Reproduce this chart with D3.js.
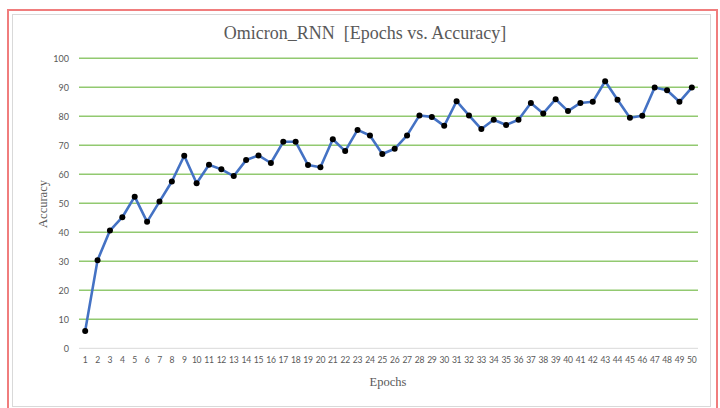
<!DOCTYPE html>
<html><head><meta charset="utf-8">
<script src="https://cdn.jsdelivr.net/npm/d3@7"></script>
<style>body{margin:0;background:#fff}svg{display:block}</style>
</head><body>
<svg id="c" width="720" height="408"></svg>
<script>
const epochs = d3.range(1, 51);
const accuracy = [6.0,30.4,40.6,45.2,52.3,43.6,50.6,57.5,66.4,56.9,
  63.3,61.7,59.4,64.9,66.5,63.9,71.2,71.2,63.2,62.4,
  72.1,68.0,75.3,73.4,67.0,68.8,73.4,80.3,79.8,76.7,
  85.2,80.3,75.6,78.8,77.0,78.8,84.6,81.0,85.9,81.8,
  84.6,85.0,92.1,85.7,79.5,80.2,89.9,89.0,85.0,89.9];
const yTicks = [0,10,20,30,40,50,60,70,80,90,100];
const title = "Omicron_RNN  [Epochs vs. Accuracy]";
const xTitle = "Epochs", yTitle = "Accuracy";

const svg = d3.select("#c");
// borders
svg.append("rect").attr("x",8).attr("y",10).attr("width",709).attr("height",410)
  .attr("fill","none").attr("stroke","#f07d7d").attr("stroke-width",2);
svg.append("rect").attr("x",12.5).attr("y",14.5).attr("width",698).attr("height",392)
  .attr("fill","none").attr("stroke","#d9d9d9").attr("stroke-width",1);

const L = 79, R = 698, T = 58.3, B = 348.3;
const x = d3.scaleBand().domain(epochs).range([L, R]);
const y = d3.scaleLinear().domain([0,100]).range([B, T]);

// gridlines
svg.append("g").selectAll("line").data(yTicks.filter(d=>d>0)).join("line")
  .attr("x1",L).attr("x2",R).attr("y1",d=>y(d)).attr("y2",d=>y(d))
  .attr("stroke","#92c970").attr("stroke-width",1.5);
// x baseline
svg.append("line").attr("x1",L).attr("x2",R).attr("y1",B).attr("y2",B)
  .attr("stroke","#d9d9d9").attr("stroke-width",1);

// y tick labels
const yAxis = d3.axisLeft(y).tickValues(yTicks).tickSize(0).tickPadding(0);
const gy = svg.append("g").attr("transform",`translate(69,0)`).call(yAxis);
gy.select(".domain").remove();
gy.selectAll("text").attr("font-family","Lato, sans-serif").attr("font-size",9).attr("fill","#595959");

// x tick labels
const xAxis = d3.axisBottom(x).tickSize(0).tickPadding(0);
const gx = svg.append("g").attr("transform",`translate(0,${B+9})`).call(xAxis);
gx.select(".domain").remove();
gx.selectAll("text").attr("font-family","Lato, sans-serif").attr("font-size",8.6)
  .attr("fill","#595959").attr("letter-spacing",-0.3);

// line
const cx = d => x(d) + x.bandwidth()/2;
const line = d3.line().x((d,i)=>cx(epochs[i])).y(d=>y(d));
svg.append("path").datum(accuracy).attr("d",line).attr("fill","none")
  .attr("stroke","#4472c4").attr("stroke-width",2.6).attr("stroke-linejoin","round");
svg.append("g").selectAll("circle").data(accuracy).join("circle")
  .attr("cx",(d,i)=>cx(epochs[i])).attr("cy",d=>y(d)).attr("r",3)
  .attr("fill","#000");

// titles
svg.append("text").attr("x",365).attr("y",38.5).attr("text-anchor","middle")
  .attr("font-family","Liberation Serif, serif").attr("font-size",18).attr("fill","#595959")
  .style("white-space","pre").text(title);
svg.append("text").attr("x",388).attr("y",386).attr("text-anchor","middle")
  .attr("font-family","Liberation Serif, serif").attr("font-size",12.5).attr("fill","#595959")
  .text(xTitle);
svg.append("text").attr("transform","translate(47,204) rotate(-90)").attr("text-anchor","middle")
  .attr("font-family","Liberation Serif, serif").attr("font-size",12.5).attr("fill","#595959")
  .text(yTitle);
</script>
</body></html>
